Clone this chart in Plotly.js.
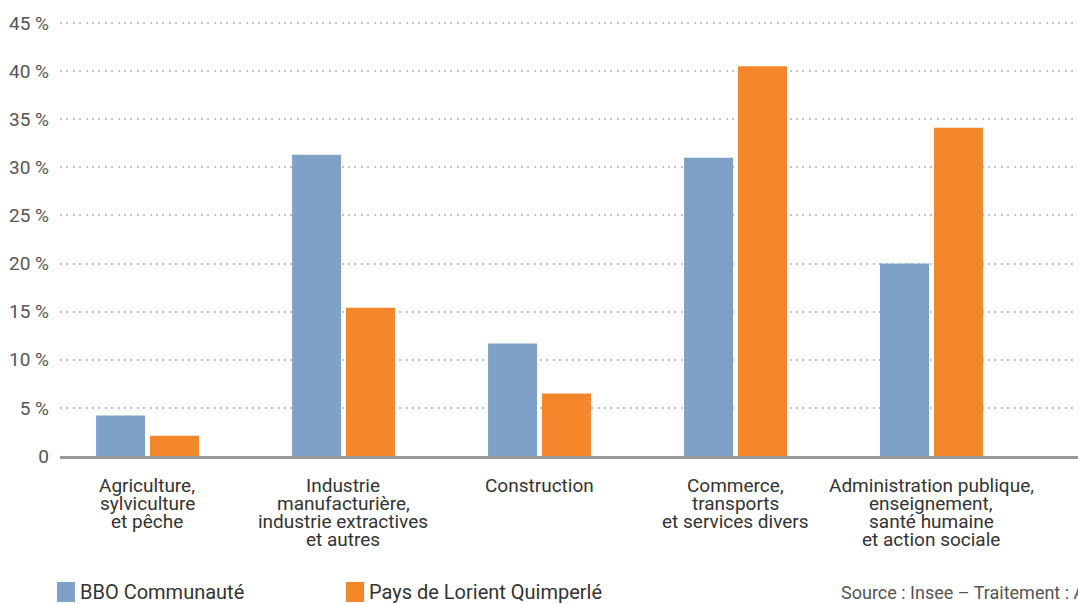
<!DOCTYPE html>
<html><head><meta charset="utf-8">
<script src="https://cdn.plot.ly/plotly-3.0.1.min.js"></script>
<style>html,body{margin:0;padding:0;background:#fff}#chart{width:1078px;height:604px}</style>
</head><body><div id="chart"></div>
<script>
const categories = [
  "Agriculture,\nsylviculture\net pêche",
  "Industrie\nmanufacturière,\nindustrie extractives\net autres",
  "Construction",
  "Commerce,\ntransports\net services divers",
  "Administration publique,\nenseignement,\nsanté humaine\net action sociale"
];
const seriesNames = ["BBO Communauté", "Pays de Lorient Quimperlé"];
const bboValues = [4.2, 31.3, 11.7, 31.0, 20.0];
const lorientValues = [2.1, 15.4, 6.5, 40.5, 34.1];
const tickValues = [0, 5, 10, 15, 20, 25, 30, 35, 40, 45];
const tickLabels = ["0", "5 %", "10 %", "15 %", "20 %", "25 %", "30 %", "35 %", "40 %", "45 %"];
const sourceText = "Source : Insee – Traitement : AudéLor";

const colors = ["#7fa1c7", "#f3852a"];
const xIdx = categories.map((c, i) => i);
const FONT = "Roboto, 'DejaVu Sans', sans-serif";

const traces = [
  {type: "bar", x: xIdx, y: bboValues, name: seriesNames[0], marker: {color: colors[0]}, width: 0.25, offset: -0.26, showlegend: false, hoverinfo: "y"},
  {type: "bar", x: xIdx, y: lorientValues, name: seriesNames[1], marker: {color: colors[1]}, width: 0.25, offset: 0.015, showlegend: false, hoverinfo: "y"}
];

const annotations = [];
const plotH = 435, plotTop = 21;
categories.forEach((c, i) => {
  c.split("\n").forEach((line, j) => {
    annotations.push({
      x: i, xref: "x", y: 0, yref: "paper", yanchor: "middle", xanchor: "center",
      yshift: -(29 + j * 18.3), text: line, showarrow: false,
      font: {family: FONT, size: 19, color: "#333"}
    });
  });
});
// legend (drawn)
const legendX = [57, 346];
const shapes = [];
seriesNames.forEach((n, k) => {
  shapes.push({type: "rect", xref: "paper", yref: "paper",
    x0: (legendX[k] - 60) / 1018, x1: (legendX[k] + 18 - 60) / 1018,
    y0: (456 - 602) / plotH, y1: (456 - 582) / plotH,
    fillcolor: colors[k], line: {width: 0}});
  annotations.push({x: (legendX[k] + 21 - 60) / 1018, xref: "paper", xanchor: "left",
    y: (456 - 592) / plotH, yref: "paper", yanchor: "middle", text: n, showarrow: false,
    font: {family: FONT, size: 20, color: "#333"}});
});
annotations.push({x: (839 - 60) / 1018, xref: "paper", xanchor: "left",
  y: (456 - 592) / plotH, yref: "paper", yanchor: "middle", text: sourceText, showarrow: false,
  font: {family: FONT, size: 18, color: "#555"}});

const layout = {
  width: 1078, height: 604,
  margin: {l: 60, r: 0, t: plotTop, b: 604 - plotTop - plotH},
  paper_bgcolor: "#fff", plot_bgcolor: "#fff",
  showlegend: false,
  xaxis: {range: [-0.444, 4.75], showticklabels: false, showgrid: false, zeroline: false,
    showline: true, linecolor: "#9a9a9a", linewidth: 3, fixedrange: true},
  yaxis: {range: [0, 45.2], tickvals: tickValues, ticktext: tickLabels, showgrid: true,
    gridcolor: "#c4c4c4", gridwidth: 2, griddash: "2px,4.4px", zeroline: false, showline: false,
    ticks: "", ticklabelstandoff: 10, tickfont: {family: FONT, size: 19, color: "#555"}, fixedrange: true},
  annotations: annotations, shapes: shapes
};
Plotly.newPlot("chart", traces, layout, {displayModeBar: false, staticPlot: true});
</script></body></html>
